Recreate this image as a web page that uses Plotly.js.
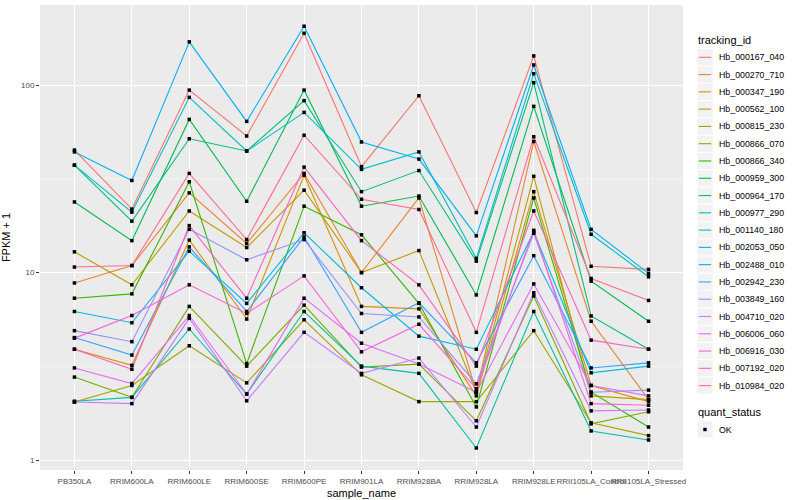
<!DOCTYPE html>
<html><head><meta charset="utf-8">
<script src="https://cdn.plot.ly/plotly-3.0.1.min.js"></script>
<style>body{margin:0;background:#fff}#chart{width:800px;height:500px}</style>
</head><body><div id="chart"></div>
<script>
const categories = ["PB350LA","RRIM600LA","RRIM600LE","RRIM600SE","RRIM600PE","RRIM901LA","RRIM928BA","RRIM928LA","RRIM928LE","RRII105LA_Control","RRII105LA_Stressed"];
const trackingIds = ["Hb_000167_040","Hb_000270_710","Hb_000347_190","Hb_000562_100","Hb_000815_230","Hb_000866_070","Hb_000866_340","Hb_000959_300","Hb_000964_170","Hb_000977_290","Hb_001140_180","Hb_002053_050","Hb_002488_010","Hb_002942_230","Hb_003849_160","Hb_004710_020","Hb_006006_060","Hb_006916_030","Hb_007192_020","Hb_010984_020"];
const colors = ["#F8766D","#EA8331","#D89000","#C09B00","#A3A500","#7CAE00","#39B600","#00BB4E","#00BF7D","#00C1A3","#00BFC4","#00BAE0","#00B0F6","#35A2FF","#9590FF","#C77CFF","#E76BF3","#FA62DB","#FF62BC","#FF6C91"];
const quantStatus = ["OK"];

const hb_000167_040 = [45, 21.8, 94, 53.5, 189, 36.7, 87.7, 20.9, 143, 10.8, 10.4];
const hb_000270_710 = [8.8, 10.9, 26.6, 14.3, 33.8, 10.0, 25.0, 2.3, 50, 5.5, 2.1];
const hb_000347_190 = [3.9, 3.2, 14.9, 5.65, 33.0, 6.6, 6.4, 2.2, 27, 2.5, 2.05];
const hb_000562_100 = [12.9, 8.6, 21.3, 13.6, 27.5, 10.0, 13.1, 2.3, 32.6, 2.2, 2.1];
const hb_000815_230 = [2.04, 2.5, 4.07, 2.58, 5.6, 2.85, 2.05, 2.05, 4.9, 1.58, 1.35];
const hb_000866_070 = [2.77, 2.16, 6.6, 3.17, 6.7, 3.13, 3.25, 1.62, 7.5, 1.56, 1.81];
const hb_000866_340 = [7.3, 7.7, 30.5, 3.27, 22.6, 15.9, 6.85, 1.92, 25, 2.3, 1.5];
const hb_000959_300 = [23.8, 14.8, 65.6, 24.0, 94, 22.6, 25.6, 7.6, 77, 9.0, 5.5];
const hb_000964_170 = [37.4, 18.8, 51.7, 44.5, 82.6, 27.0, 35.0, 11.5, 103, 5.87, 3.9];
const hb_000977_290 = [2.06, 2.16, 5.0, 2.25, 6.2, 3.17, 2.9, 1.16, 6.2, 1.43, 1.28];
const hb_001140_180 = [37.4, 21.0, 86, 44.5, 71.5, 35.5, 44.0, 11.9, 115, 16.0, 9.5];
const hb_002053_050 = [6.2, 5.4, 13.0, 6.85, 16.3, 8.3, 4.58, 3.9, 16.5, 2.92, 3.17];
const hb_002488_010 = [44, 31, 170, 64, 206, 49.7, 40.3, 15.7, 128, 17.0, 9.9];
const hb_002942_230 = [4.5, 3.63, 13.7, 6.2, 15.5, 4.8, 6.9, 3.3, 12.3, 3.1, 3.3];
const hb_003849_160 = [4.9, 4.28, 17.0, 11.7, 15.0, 6.05, 5.8, 2.55, 16.2, 2.3, 2.36];
const hb_004710_020 = [2.04, 2.0, 5.7, 2.07, 4.8, 2.9, 3.5, 1.5, 7.8, 1.83, 1.85];
const hb_006006_060 = [3.1, 2.56, 5.9, 2.25, 7.3, 4.2, 3.25, 2.3, 8.7, 2.5, 2.2];
const hb_006916_030 = [4.47, 5.9, 8.6, 6.05, 9.6, 3.78, 5.3, 2.4, 16.8, 2.0, 1.96];
const hb_007192_020 = [3.9, 3.05, 17.8, 7.3, 36.5, 14.8, 8.6, 3.17, 21.3, 4.36, 3.9];
const hb_010984_020 = [10.7, 10.9, 33.8, 15.0, 54, 24.6, 21.7, 4.8, 53, 9.3, 7.1];

const seriesValues = [hb_000167_040, hb_000270_710, hb_000347_190, hb_000562_100, hb_000815_230, hb_000866_070, hb_000866_340, hb_000959_300, hb_000964_170, hb_000977_290, hb_001140_180, hb_002053_050, hb_002488_010, hb_002942_230, hb_003849_160, hb_004710_020, hb_006006_060, hb_006916_030, hb_007192_020, hb_010984_020];

const traces = trackingIds.map((id, i) => ({
  type: 'scatter', mode: 'lines', name: id, x: categories, y: seriesValues[i],
  line: {color: colors[i], width: 1.1}, showlegend: false
}));
const px = [], py = [];
seriesValues.forEach(v => v.forEach((val, j) => { px.push(categories[j]); py.push(val); }));
traces.push({
  type: 'scatter', mode: 'markers', name: quantStatus[0], x: px, y: py,
  marker: {color: '#000', size: 3.5, symbol: 'square'}, showlegend: false
});

// Custom ggplot-style legend (page pixel -> paper coordinates)
const M = {l: 40, r: 117, t: 5, b: 30}, W = 800, H = 500;
const pw = W - M.l - M.r, ph = H - M.t - M.b;
const PX = x => (x - M.l) / pw;
const PY = y => (H - M.b - y) / ph;
const shapes = [], annotations = [];
const keyL = 697.3, keyR = 712.7, txtX = 716.7, step = 17.28, y0 = 57.3;
annotations.push({xref: 'paper', yref: 'paper', x: PX(695.5), y: PY(40.5), xanchor: 'left', yanchor: 'middle',
  text: 'tracking_id', showarrow: false, font: {size: 11, color: '#000'}});
trackingIds.forEach((id, i) => {
  const cy = y0 + step * i;
  shapes.push({type: 'rect', xref: 'paper', yref: 'paper', x0: PX(keyL), x1: PX(keyR), y0: PY(cy - 8.1), y1: PY(cy + 8.1),
    fillcolor: '#F2F2F2', line: {width: 0}, layer: 'above'});
  shapes.push({type: 'line', xref: 'paper', yref: 'paper', x0: PX(keyL + 1.5), x1: PX(keyR - 1.5), y0: PY(cy), y1: PY(cy),
    line: {color: colors[i], width: 1.1}, layer: 'above'});
  annotations.push({xref: 'paper', yref: 'paper', x: PX(txtX), y: PY(cy), xanchor: 'left', yanchor: 'middle',
    text: id, showarrow: false, font: {size: 8.8, color: '#000'}});
});
annotations.push({xref: 'paper', yref: 'paper', x: PX(695.5), y: PY(412.3), xanchor: 'left', yanchor: 'middle',
  text: 'quant_status', showarrow: false, font: {size: 11, color: '#000'}});
const okY = 429.5;
shapes.push({type: 'rect', xref: 'paper', yref: 'paper', x0: PX(keyL), x1: PX(keyR), y0: PY(okY - 8.1), y1: PY(okY + 8.1),
  fillcolor: '#F2F2F2', line: {width: 0}, layer: 'above'});
shapes.push({type: 'rect', xref: 'paper', yref: 'paper', x0: PX(703.3), x1: PX(706.7), y0: PY(okY - 1.7), y1: PY(okY + 1.7),
  fillcolor: '#000', line: {width: 0}, layer: 'above'});
annotations.push({xref: 'paper', yref: 'paper', x: PX(txtX), y: PY(okY), xanchor: 'left', yanchor: 'middle',
  text: quantStatus[0], showarrow: false, font: {size: 8.8, color: '#000'}});

const layout = {
  width: W, height: H, margin: M,
  paper_bgcolor: '#fff', plot_bgcolor: '#EBEBEB',
  font: {family: 'Liberation Sans, Arial, sans-serif', size: 9, color: '#000'},
  xaxis: {
    type: 'category', range: [-0.6, 10.6], showgrid: true, gridcolor: '#fff', gridwidth: 1.1,
    zeroline: false, showline: false, ticks: 'outside', ticklen: 3, tickcolor: '#333', tickangle: 0,
    tickfont: {size: 8, color: '#4D4D4D'},
    title: {text: 'sample_name', font: {size: 11, color: '#000'}, standoff: 4}
  },
  yaxis: {
    type: 'log', range: [-0.053, 2.427], dtick: 1, showgrid: true, gridcolor: '#fff', gridwidth: 1.1,
    zeroline: false, showline: false, ticks: 'outside', ticklen: 3, tickcolor: '#333',
    tickfont: {size: 8, color: '#4D4D4D'},
    minor: {tickmode: 'array', tickvals: [0.3162, 3.162, 31.62, 316.2], showgrid: true, gridcolor: '#F7F7F7', gridwidth: 0.6, ticks: ''},
    title: {text: 'FPKM + 1', font: {size: 11, color: '#000'}, standoff: 8}
  },
  shapes: shapes, annotations: annotations,
  showlegend: false
};
Plotly.newPlot('chart', traces, layout, {displayModeBar: false, staticPlot: true});
</script></body></html>
